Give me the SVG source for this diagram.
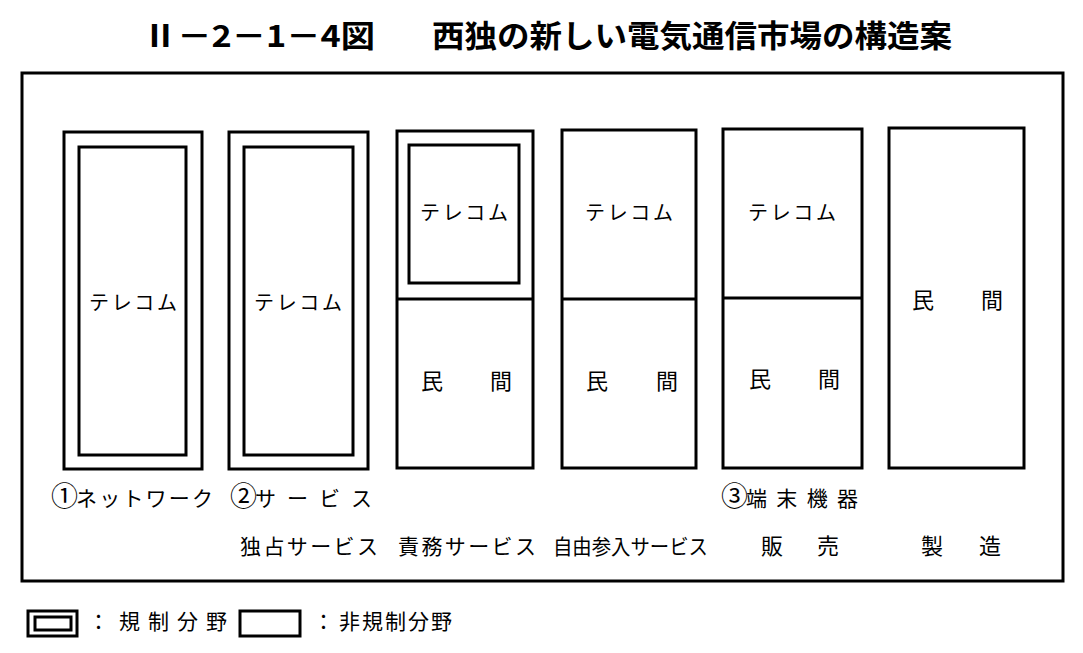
<svg xmlns="http://www.w3.org/2000/svg" width="1083" height="653" viewBox="0 0 1083 653">
<style>
.bx{fill:none;stroke:#000;stroke-width:3}
.ln{stroke:#000;stroke-width:3}
.t{font-family:"Noto Sans CJK JP","Noto Sans CJK SC",sans-serif;fill:#000}
.title{font-size:31px;font-weight:bold}
.lab{font-size:21px}
.cn{font-size:27px}
.in{font-size:20px}
.m{font-size:22px;text-anchor:middle}
</style>
<rect width="1083" height="653" fill="#fff"/>
<g id="title">
<text class="t title" x="143" y="47" textLength="232" lengthAdjust="spacingAndGlyphs">Ⅱ－2－1－4図</text>
<text class="t title" x="432" y="47" textLength="520" lengthAdjust="spacingAndGlyphs">西独の新しい電気通信市場の構造案</text>
</g>
<g id="frame"><rect class="bx" x="22" y="73" width="1041" height="508"/></g>
<g id="box1">
<rect class="bx" x="64" y="132" width="138" height="337"/>
<rect class="bx" x="79" y="147" width="107" height="308"/>
<text class="t in" x="89" y="310" textLength="88" lengthAdjust="spacing">テレコム</text>
</g>
<g id="box2">
<rect class="bx" x="229" y="132" width="139" height="337"/>
<rect class="bx" x="244" y="147" width="109" height="308"/>
<text class="t in" x="254" y="310" textLength="88" lengthAdjust="spacing">テレコム</text>
</g>
<g id="box3">
<rect class="bx" x="397" y="131" width="136" height="337"/>
<rect class="bx" x="409" y="145" width="110" height="138"/>
<line class="ln" x1="397" y1="299" x2="533" y2="299"/>
<text class="t in" x="420" y="220" textLength="88" lengthAdjust="spacing">テレコム</text>
<text class="t m" x="432" y="389">民</text>
<text class="t m" x="501" y="389">間</text>
</g>
<g id="box4">
<rect class="bx" x="562" y="130" width="134" height="338"/>
<line class="ln" x1="562" y1="299" x2="696" y2="299"/>
<text class="t in" x="585" y="220" textLength="88" lengthAdjust="spacing">テレコム</text>
<text class="t m" x="597" y="389">民</text>
<text class="t m" x="667" y="389">間</text>
</g>
<g id="box5">
<rect class="bx" x="723" y="129" width="139" height="339"/>
<line class="ln" x1="723" y1="298" x2="862" y2="298"/>
<text class="t in" x="748" y="220" textLength="88" lengthAdjust="spacing">テレコム</text>
<text class="t m" x="760" y="387">民</text>
<text class="t m" x="829" y="387">間</text>
</g>
<g id="box6">
<rect class="bx" x="889" y="128" width="135" height="340"/>
<text class="t m" x="923" y="308">民</text>
<text class="t m" x="992" y="308">間</text>
</g>
<g id="labels">
<text class="t lab" x="51" y="506"><tspan class="cn">①</tspan><tspan x="76" textLength="137" lengthAdjust="spacing">ネットワーク</tspan></text>
<text class="t lab" x="230" y="506"><tspan class="cn">②</tspan><tspan x="255" textLength="117" lengthAdjust="spacing">サービス</tspan></text>
<text class="t lab" x="721" y="506"><tspan class="cn">③</tspan><tspan x="746" textLength="112" lengthAdjust="spacing">端末機器</tspan></text>
<text class="t lab" x="240" y="554" textLength="138" lengthAdjust="spacing">独占サービス</text>
<text class="t lab" x="398" y="554" textLength="138" lengthAdjust="spacing">責務サービス</text>
<text class="t lab" x="553" y="554" textLength="155" lengthAdjust="spacingAndGlyphs">自由参入サービス</text>
<text class="t m" x="772" y="554">販</text>
<text class="t m" x="828" y="554">売</text>
<text class="t m" x="932" y="554">製</text>
<text class="t m" x="990" y="554">造</text>
</g>
<g id="legend">
<rect class="bx" x="28" y="611" width="49" height="25"/>
<rect class="ln" x="35" y="617" width="36" height="13" fill="none" stroke-width="2.5"/>
<text class="t lab" x="88" y="629">：</text>
<text class="t lab" x="119" y="629" textLength="108" lengthAdjust="spacing">規制分野</text>
<rect class="bx" x="240" y="611" width="60" height="25"/>
<text class="t lab" x="313" y="629">：</text>
<text class="t lab" x="339" y="629" textLength="113" lengthAdjust="spacing">非規制分野</text>
</g>
</svg>
